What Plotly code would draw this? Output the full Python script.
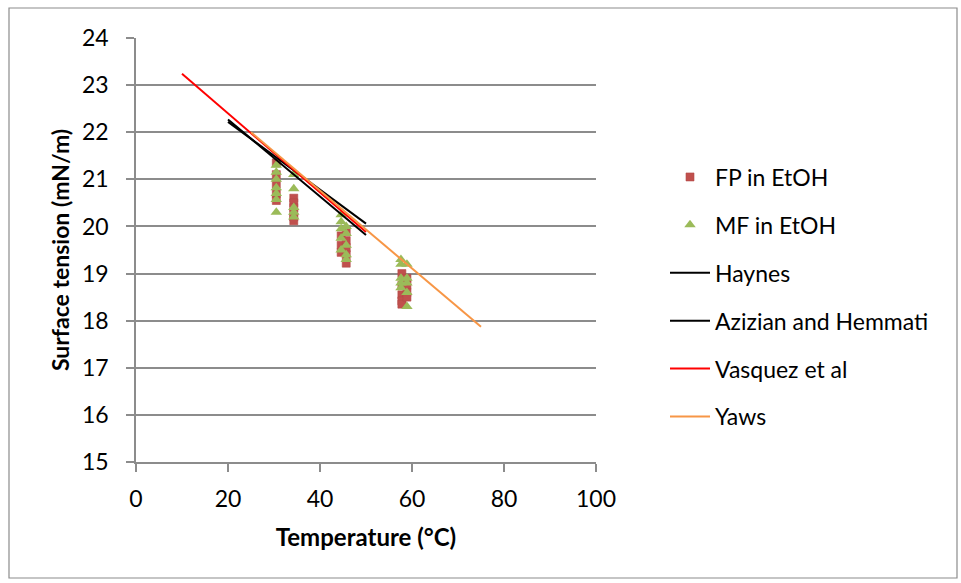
import plotly.graph_objects as go

# Measured surface tension of ethanol solutions (mN/m) vs temperature (°C)
fp_temp = [30.5, 30.5, 30.5, 30.5, 30.5, 34.3, 34.3, 34.3, 34.3, 34.3, 34.3,
           44.6, 44.6, 44.6, 45.7, 45.7, 45.7, 45.7, 45.7,
           57.8, 57.8, 57.8, 57.8, 57.8, 58.9, 58.9, 58.9, 58.9]
fp_sigma = [21.35, 21.1, 20.9, 20.7, 20.55, 20.6, 20.5, 20.4, 20.3, 20.2, 20.12,
            19.8, 19.6, 19.45, 19.9, 19.7, 19.55, 19.4, 19.22,
            19.0, 18.75, 18.55, 18.42, 18.35, 18.9, 18.75, 18.6, 18.5]

mf_temp = [30.5, 30.5, 30.5, 30.5, 30.5, 30.5, 30.5, 34.3, 34.3, 34.3, 34.3, 34.3,
           44.6, 44.6, 44.6, 44.6, 44.6, 45.7, 45.7, 45.7, 45.7, 45.7,
           57.6, 57.6, 57.6, 57.6, 57.6, 58.9, 58.9, 58.9, 58.9, 58.9]
mf_sigma = [21.3, 21.15, 21.0, 20.82, 20.7, 20.57, 20.3, 21.1, 20.8, 20.4, 20.3, 20.2,
            20.25, 20.1, 19.95, 19.75, 19.5, 20.0, 19.85, 19.6, 19.4, 19.3,
            19.3, 19.2, 18.9, 18.8, 18.7, 19.2, 18.9, 18.8, 18.6, 18.3]

# Literature correlations (end points of each linear fit)
haynes_temp = [20, 50]
haynes_sigma = [22.27, 19.82]
azizian_temp = [20, 50]
azizian_sigma = [22.22, 20.06]
vasquez_temp = [10, 50]
vasquez_sigma = [23.24, 19.88]
yaws_temp = [25, 75]
yaws_sigma = [22.0, 17.87]

x_ticks = [0, 20, 40, 60, 80, 100]
y_ticks = [15, 16, 17, 18, 19, 20, 21, 22, 23, 24]

FONT = "Lato, 'Open Sans', sans-serif"

fig = go.Figure()
fig.add_trace(go.Scatter(
    x=fp_temp, y=fp_sigma, mode="markers", name="FP in EtOH", legendgroup="a",
    marker=dict(symbol="square", size=8, color="#C0504D",
                line=dict(width=0.6, color="#B34A47"))))
fig.add_trace(go.Scatter(
    x=mf_temp, y=mf_sigma, mode="markers", name="MF in EtOH", legendgroup="b",
    marker=dict(symbol="triangle-up", size=10, color="#9BBB59",
                line=dict(width=0))))
fig.add_trace(go.Scatter(
    x=haynes_temp, y=haynes_sigma, mode="lines", name="Haynes", legendgroup="c",
    line=dict(color="#000000", width=2)))
fig.add_trace(go.Scatter(
    x=azizian_temp, y=azizian_sigma, mode="lines", name="Azizian and Hemmati",
    legendgroup="d", line=dict(color="#000000", width=2)))
fig.add_trace(go.Scatter(
    x=vasquez_temp, y=vasquez_sigma, mode="lines", name="Vasquez et al",
    legendgroup="e", line=dict(color="#FF0000", width=2)))
fig.add_trace(go.Scatter(
    x=yaws_temp, y=yaws_sigma, mode="lines", name="Yaws", legendgroup="f",
    line=dict(color="#F79646", width=2)))

grid = "#8C8C8C"
fig.update_xaxes(
    range=[0, 100], tickvals=x_ticks, showgrid=False, zeroline=False,
    showline=True, linecolor=grid, linewidth=1.5,
    ticks="outside", ticklen=8, tickcolor=grid, tickwidth=1.5,
    ticklabelstandoff=8,
    tickfont=dict(family=FONT, size=23, color="#000000"),
    title=dict(text="<b>Temperature (°C)</b>", standoff=18,
               font=dict(family=FONT, size=24, color="#000000")))
fig.update_yaxes(
    range=[15, 24], tickvals=y_ticks, showgrid=True, gridcolor=grid, gridwidth=1.5,
    zeroline=False, showline=True, linecolor=grid, linewidth=1.5,
    ticks="outside", ticklen=8, tickcolor=grid, tickwidth=1.5,
    ticklabelstandoff=13,
    tickfont=dict(family=FONT, size=23, color="#000000"),
    title=dict(text="<b>Surface tension (mN/m)</b>", standoff=6,
               font=dict(family=FONT, size=23, color="#000000")))

fig.update_layout(
    width=961, height=583,
    margin=dict(l=136, r=365, t=38, b=121),
    paper_bgcolor="#FFFFFF", plot_bgcolor="#FFFFFF",
    showlegend=True,
    legend=dict(x=(665 - 136) / 460, y=(462 - 297) / 424,
                xanchor="left", yanchor="middle",
                font=dict(family=FONT, size=23, color="#000000"),
                tracegroupgap=15, itemwidth=40, bgcolor="rgba(0,0,0,0)"),
    shapes=[dict(type="rect", xref="paper", yref="paper",
                 x0=(9 - 136) / 460, x1=(957 - 136) / 460,
                 y0=(462 - 578) / 424, y1=(462 - 8) / 424,
                 line=dict(color="#8C8C8C", width=1.2), layer="below")],
)

fig.write_html("out.html")
